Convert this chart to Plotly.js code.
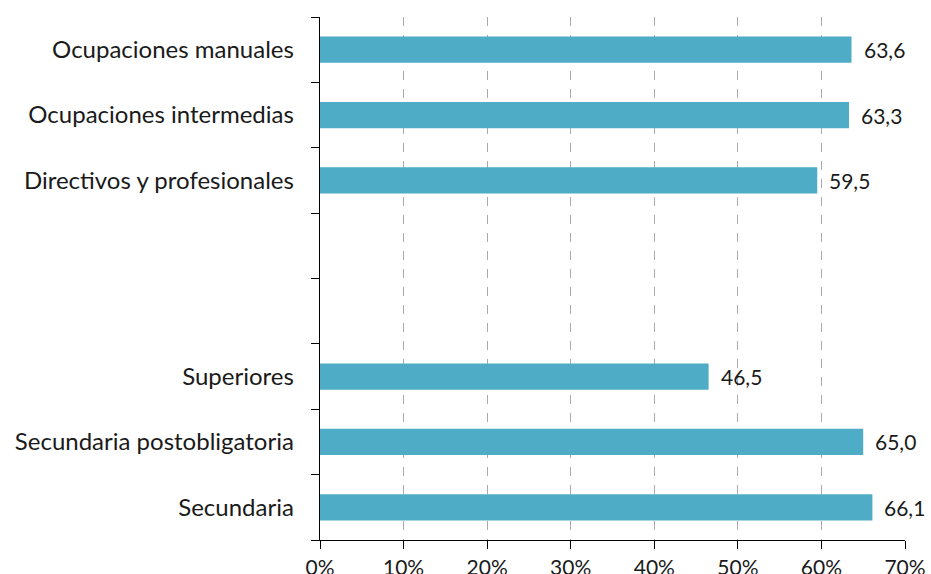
<!DOCTYPE html>
<html>
<head>
<meta charset="utf-8">
<script src="https://cdn.plot.ly/plotly-3.0.1.min.js"></script>
<style>html,body{margin:0;padding:0;background:#fff;}#chart{width:931px;height:574px;}</style>
</head>
<body>
<div id="chart"></div>
<script>
const categories = ["Ocupaciones manuales", "Ocupaciones intermedias", "Directivos y profesionales", " ", "  ", "Superiores", "Secundaria postobligatoria", "Secundaria"];
const values = [63.6, 63.3, 59.5, null, null, 46.5, 65.0, 66.1];
const xTicks = [0, 10, 20, 30, 40, 50, 60, 70];
const xTickText = ["0%", "10%", "20%", "30%", "40%", "50%", "60%", "70%"];

const FONT = "Lato, 'Open Sans', sans-serif";
const fmt = v => v.toFixed(1).replace('.', ',');

const annotations = [];
categories.forEach((c, i) => {
  if (values[i] !== null) {
    annotations.push({x: values[i], y: c, xref: 'x', yref: 'y', text: fmt(values[i]),
      xanchor: 'left', yanchor: 'middle', xshift: 10, showarrow: false,
      font: {family: FONT, size: 21, color: '#1a1a1a'}});
  }
});

const trace = {
  type: 'bar', orientation: 'h', y: categories, x: values,
  marker: {color: '#4FACC6'}, hoverinfo: 'none'
};

const layout = {
  width: 931, height: 574,
  margin: {l: 320, r: 26, t: 17, b: 34},
  paper_bgcolor: '#fff', plot_bgcolor: '#fff',
  bargap: 0.6,
  showlegend: false,
  font: {family: FONT, color: '#1a1a1a'},
  xaxis: {
    range: [0, 70], tickmode: 'array', tickvals: xTicks, ticktext: xTickText,
    showgrid: true, gridcolor: '#aaaaaa', griddash: 'dash', gridwidth: 1,
    showline: true, linecolor: '#000', linewidth: 1.3,
    ticks: 'outside', ticklen: 8, tickcolor: '#000',
    zeroline: false,
    tickfont: {family: FONT, size: 21, color: '#1a1a1a'}
  },
  yaxis: {
    type: 'category', categoryorder: 'array', categoryarray: categories.slice().reverse(),
    range: [-0.5, 7.5],
    tickson: 'boundaries', ticks: 'outside', ticklen: 8, tickcolor: '#000',
    ticklabelstandoff: 20,
    showline: true, linecolor: '#000', linewidth: 1.3,
    showgrid: false, zeroline: false,
    tickfont: {family: FONT, size: 24, color: '#1a1a1a'}
  },
  annotations: annotations
};

Plotly.newPlot('chart', [trace], layout, {displayModeBar: false, staticPlot: true});
</script>
</body>
</html>
